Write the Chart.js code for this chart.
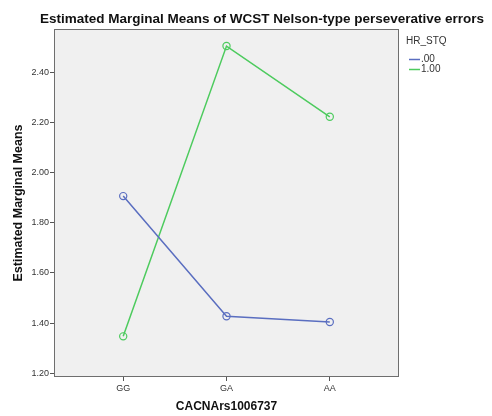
<!DOCTYPE html>
<html>
<head>
<meta charset="utf-8">
<script src="https://cdn.jsdelivr.net/npm/chart.js@4/dist/chart.umd.min.js"></script>
<style>
  html, body { margin: 0; padding: 0; background: #fff; }
  #wrap { width: 492px; height: 416px; position: relative; }
</style>
</head>
<body>
<div id="wrap"><canvas id="emm--chart"></canvas></div>
<script>
"use strict";

const categories = ['GG', 'GA', 'AA'];
const groupLabels = ['.00', '1.00'];
const seriesZero = [1.906, 1.427, 1.404];
const seriesOne = [1.347, 2.504, 2.222];
const yTicks = [1.20, 1.40, 1.60, 1.80, 2.00, 2.20, 2.40];
const colors = ['#5a6ec0', '#4dcb5e'];

const titleText = 'Estimated Marginal Means of WCST Nelson-type perseverative errors';
const legendTitle = 'HR_STQ';

// plot frame + title + legend, SPSS style
const decor = {
    id: 'decor',
    beforeDraw(chart) {
        const { ctx, chartArea: a } = chart;
        ctx.save();
        ctx.fillStyle = '#f0f0f0';
        ctx.fillRect(a.left, a.top, a.right - a.left, a.bottom - a.top);
        ctx.restore();
    },
    afterDraw(chart) {
        const { ctx, chartArea: a } = chart;
        ctx.save();
        ctx.strokeStyle = '#6e6e6e';
        ctx.lineWidth = 1;
        ctx.strokeRect(a.left + 0.5, a.top + 0.5, a.right - a.left - 1, a.bottom - a.top - 1);

        ctx.fillStyle = '#111';
        ctx.font = 'bold 13.5px "Liberation Sans", Arial, sans-serif';
        ctx.textAlign = 'center';
        ctx.textBaseline = 'middle';
        ctx.fillText(titleText, 262, 19);

        ctx.textAlign = 'left';
        ctx.fillStyle = '#333';
        ctx.font = '10px "Liberation Sans", Arial, sans-serif';
        ctx.fillText(legendTitle, 406, 41);
        chart.data.datasets.forEach((ds, i) => {
            const y = 59.5 + i * 10;
            ctx.strokeStyle = ds.borderColor;
            ctx.lineWidth = 1.5;
            ctx.beginPath();
            ctx.moveTo(409, y);
            ctx.lineTo(420, y);
            ctx.stroke();
            ctx.fillText(ds.label, 421, y);
        });
        ctx.restore();
    }
};

const tickFont = { family: '"Liberation Sans", Arial, sans-serif', size: 9 };

function makeDataset(label, values, color) {
    return {
        label: label,
        data: values.map((v, i) => ({ x: i, y: v })),
        borderColor: color,
        backgroundColor: 'rgba(0,0,0,0)',
        borderWidth: 1.5,
        pointRadius: 3.6,
        pointHoverRadius: 3.6,
        pointBorderWidth: 1.2,
        pointBackgroundColor: 'rgba(0,0,0,0)',
        pointBorderColor: color,
        tension: 0
    };
}

const ctx = document.getElementById('emm--chart').getContext('2d');
new Chart(ctx, {
    type: 'line',
    data: {
        datasets: [
            makeDataset(groupLabels[0], seriesZero, colors[0]),
            makeDataset(groupLabels[1], seriesOne, colors[1])
        ]
    },
    plugins: [decor],
    options: {
        responsive: true,
        maintainAspectRatio: false,
        animation: false,
        layout: { padding: { top: 29, right: 93, left: 0, bottom: 0 } },
        plugins: {
            legend: { display: false },
            tooltip: { enabled: false }
        },
        scales: {
            x: {
                type: 'linear',
                min: -0.67,
                max: 2.67,
                afterBuildTicks: (s) => { s.ticks = categories.map((c, i) => ({ value: i })); },
                afterFit: (s) => { s.height = 39; },
                ticks: {
                    font: tickFont,
                    color: '#333',
                    padding: 2,
                    maxRotation: 0,
                    callback: (v) => categories[v]
                },
                grid: { drawOnChartArea: false, drawTicks: true, tickLength: 4, color: '#555' },
                border: { display: false },
                title: {
                    display: true,
                    text: 'CACNArs1006737',
                    color: '#111',
                    font: { family: '"Liberation Sans", Arial, sans-serif', size: 12, weight: 'bold' },
                    padding: { top: 0, bottom: 2 }
                }
            },
            y: {
                min: 1.185,
                max: 2.572,
                afterBuildTicks: (s) => { s.ticks = yTicks.map(v => ({ value: v })); },
                afterFit: (s) => { s.width = 54; },
                ticks: {
                    font: tickFont,
                    color: '#333',
                    padding: 1,
                    callback: (v) => v.toFixed(2)
                },
                grid: { drawOnChartArea: false, drawTicks: true, tickLength: 4, color: '#555' },
                border: { display: false },
                title: {
                    display: true,
                    text: 'Estimated Marginal Means',
                    color: '#111',
                    font: { family: '"Liberation Sans", Arial, sans-serif', size: 12.5, weight: 'bold' },
                    padding: { top: 11, bottom: 0 }
                }
            }
        }
    }
});
</script>
</body>
</html>
